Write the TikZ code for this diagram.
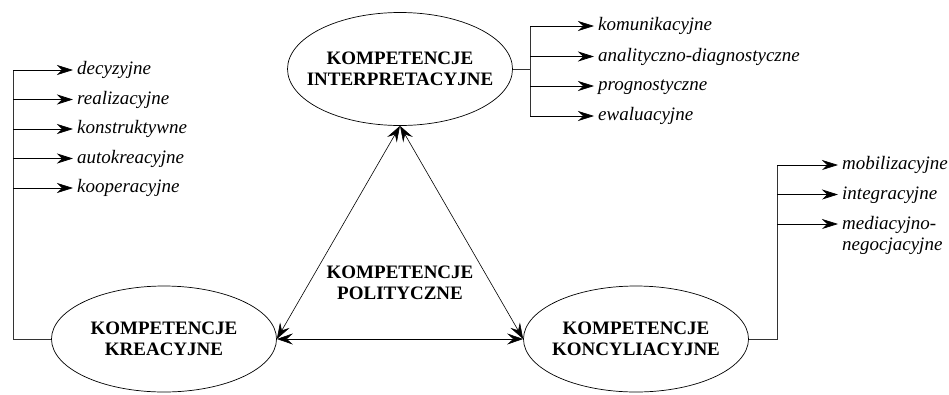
\documentclass[tikz,border=0pt]{standalone}
\usepackage{fontspec}
\setmainfont{Liberation Serif}
\usetikzlibrary{arrows.meta,positioning,shapes.geometric}

\begin{document}
\begin{tikzpicture}[
  x=1pt,
  y=-1pt,
  font=\fontsize{19}{21}\selectfont,
  komp/.style={draw, ellipse, line width=0.7pt, inner xsep=-30pt, inner ysep=-8pt,
    align=center, minimum width=225pt, font=\fontsize{19}{21}\selectfont\bfseries},
  item/.style={anchor=west, inner xsep=4pt, inner ysep=2pt, text height=13pt, text depth=4pt,
    font=\fontsize{19}{21}\selectfont\itshape},
  line/.style={line width=0.7pt, gray!40!black},
  arrow/.style={-{Stealth[length=16pt, width=10pt, inset=5pt]}, line width=0.7pt},
  dblarrow/.style={{Stealth[length=16pt, width=11pt, inset=6pt]}-{Stealth[length=16pt, width=11pt, inset=6pt]},
    line width=0.6pt}
]
  \useasboundingbox (0,0) rectangle (949,394);

  \node[komp, minimum height=113pt] (int) at (400,69) {KOMPETENCJE\\INTERPRETACYJNE};
  \node[komp, minimum height=106pt] (kre) at (164,339) {KOMPETENCJE\\KREACYJNE};
  \node[komp, minimum height=106pt] (kon) at (636,339) {KOMPETENCJE\\KONCYLIACYJNE};
  \node[font=\fontsize{19}{21}\selectfont\bfseries, align=center] (pol) at (400,283)
    {KOMPETENCJE\\POLITYCZNE};

  % kreacyjne
  \node[item] (dec) at (73,70) {decyzyjne};
  \node[item, below=29.5pt of dec.west, anchor=west] (rea) {realizacyjne};
  \node[item, below=29.5pt of rea.west, anchor=west] (kons) {konstruktywne};
  \node[item, below=29.5pt of kons.west, anchor=west] (auto) {autokreacyjne};
  \node[item, below=29.5pt of auto.west, anchor=west] (koop) {kooperacyjne};
  \coordinate (lspine) at (13,70);

  % interpretacyjne
  \node[item] (kom) at (594,26) {komunikacyjne};
  \node[item, below=30.5pt of kom.west, anchor=west] (ana) {analityczno-diagnostyczne};
  \node[item, below=29.5pt of ana.west, anchor=west] (pro) {prognostyczne};
  \node[item, below=30pt of pro.west, anchor=west] (ewa) {ewaluacyjne};
  \coordinate (tspine) at (530,26);

  % koncyliacyjne
  \node[item] (mob) at (838,165) {mobilizacyjne};
  \node[item, below=29.5pt of mob.west, anchor=west] (integ) {integracyjne};
  \node[anchor=north west, inner xsep=4pt, inner ysep=2pt, align=left,
    font=\fontsize{19}{21}\selectfont\itshape] (med) at (838,214) {mediacyjno-\\negocjacyjne};
  \coordinate (rspine) at (777,165);

  \draw[dblarrow] (int.south) -- (kre.east);
  \draw[dblarrow] (int.south) -- (kon.west);
  \draw[dblarrow] (kre.east) -- (kon.west);

  \draw[line] (kre.west) -| (lspine);
  \draw[arrow] (lspine) -- (dec.west);
  \draw[arrow] (lspine |- rea.west) -- (rea.west);
  \draw[arrow] (lspine |- kons.west) -- (kons.west);
  \draw[arrow] (lspine |- auto.west) -- (auto.west);
  \draw[arrow] (lspine |- koop.west) -- (koop.west);

  \draw[line] (int.east) -- (tspine |- int.east);
  \draw[line] (tspine) -- (tspine |- ewa.west);
  \draw[arrow] (tspine) -- (kom.west);
  \draw[arrow] (tspine |- ana.west) -- (ana.west);
  \draw[arrow] (tspine |- pro.west) -- (pro.west);
  \draw[arrow] (tspine |- ewa.west) -- (ewa.west);

  \draw[line] (kon.east) -| (rspine);
  \draw[arrow] (rspine) -- (mob.west);
  \draw[arrow] (rspine |- integ.west) -- (integ.west);
  \draw[arrow] (rspine |- med.north west) ++(0,10) -- ([yshift=-10pt]med.north west);
\end{tikzpicture}
\end{document}
